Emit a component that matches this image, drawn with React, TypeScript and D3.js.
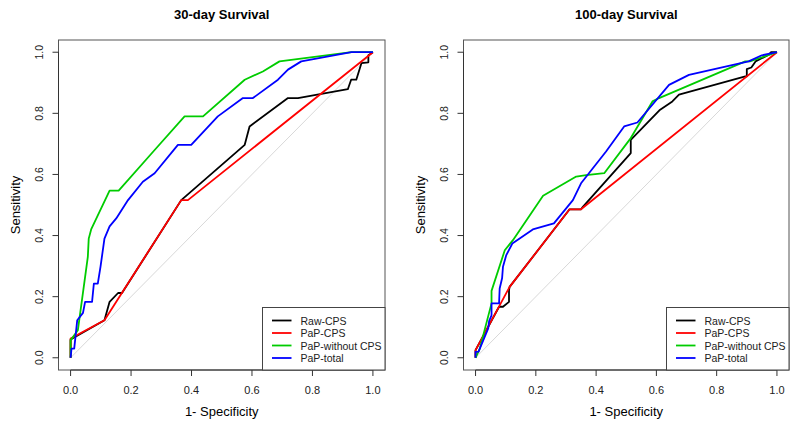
import React from "react";
import * as d3 from "d3";

type Pt = [number, number];

// 30-day survival ROC curves: [1-specificity, sensitivity]
const rawCps30: Pt[] = [[0,0],[0,0.06],[0.112,0.123],[0.129,0.183],[0.157,0.212],[0.17,0.212],[0.366,0.516],[0.576,0.697],[0.592,0.757],[0.719,0.85],[0.752,0.85],[0.917,0.879],[0.928,0.91],[0.945,0.91],[0.962,0.964],[0.985,0.967],[0.985,0.99],[1,1]];
const papCps30: Pt[] = [[0,0],[0,0.063],[0.112,0.123],[0.366,0.516],[0.388,0.516],[1,1]];
const papWithout30: Pt[] = [[0,0],[0,0.057],[0.024,0.09],[0.057,0.33],[0.06,0.39],[0.068,0.42],[0.129,0.547],[0.159,0.547],[0.278,0.68],[0.377,0.79],[0.438,0.79],[0.576,0.91],[0.636,0.937],[0.691,0.97],[0.929,1],[1,1]];
const papTotal30: Pt[] = [[0,0],[0.003,0.03],[0.012,0.03],[0.022,0.123],[0.041,0.147],[0.048,0.183],[0.071,0.183],[0.077,0.243],[0.09,0.243],[0.099,0.298],[0.112,0.39],[0.129,0.43],[0.151,0.456],[0.19,0.516],[0.239,0.576],[0.278,0.604],[0.355,0.697],[0.399,0.697],[0.487,0.79],[0.57,0.85],[0.603,0.85],[0.686,0.91],[0.719,0.943],[0.763,0.97],[0.929,1],[1,1]];

// 100-day survival ROC curves
const rawCps100: Pt[] = [[0,0],[0,0.025],[0.078,0.167],[0.091,0.167],[0.111,0.183],[0.111,0.221],[0.113,0.232],[0.312,0.486],[0.35,0.486],[0.356,0.494],[0.515,0.67],[0.515,0.713],[0.61,0.81],[0.653,0.839],[0.675,0.861],[0.895,0.921],[0.9,0.921],[0.9,0.945],[0.915,0.95],[0.929,0.97],[0.973,0.992],[0.98,1],[1,1]];
const papCps100: Pt[] = [[0,0],[0,0.025],[0.113,0.232],[0.312,0.486],[0.35,0.486],[1,1]];
const papWithout100: Pt[] = [[0,0],[0.014,0.03],[0.053,0.178],[0.053,0.219],[0.097,0.352],[0.124,0.385],[0.224,0.53],[0.334,0.593],[0.367,0.598],[0.427,0.604],[0.515,0.719],[0.587,0.839],[0.609,0.85],[0.895,0.97],[0.91,0.97],[1,1]];
const papTotal100: Pt[] = [[0,0],[0,0.019],[0.01,0.02],[0.042,0.096],[0.045,0.12],[0.053,0.139],[0.053,0.178],[0.078,0.178],[0.08,0.227],[0.088,0.26],[0.091,0.298],[0.102,0.336],[0.122,0.374],[0.19,0.42],[0.26,0.44],[0.323,0.516],[0.35,0.571],[0.433,0.675],[0.493,0.757],[0.537,0.77],[0.642,0.893],[0.708,0.926],[0.906,0.97],[0.95,0.99],[1,1]];

const seriesNames = ["Raw-CPS", "PaP-CPS", "PaP-without CPS", "PaP-total"];
const seriesColors = ["#000000", "#ff0000", "#00cc00", "#0000ff"];
const tickValues = [0, 0.2, 0.4, 0.6, 0.8, 1.0];
const panelTitles = ["30-day Survival", "100-day Survival"];
const xLabel = "1- Specificity";
const yLabel = "Sensitivity";

const panelsData: Pt[][][] = [
  [rawCps30, papCps30, papWithout30, papTotal30],
  [rawCps100, papCps100, papWithout100, papTotal100],
];

const FONT = "'Liberation Sans', Arial, Helvetica, sans-serif";

function Panel({ left, right, title, curves }: { left: number; right: number; title: string; curves: Pt[][] }) {
  const top = 40;
  const bottom = 370;
  const x = d3.scaleLinear().domain([-0.04, 1.04]).range([left, right]);
  const y = d3.scaleLinear().domain([-0.04, 1.04]).range([bottom, top]);
  const line = d3.line<Pt>().x((d) => x(d[0])).y((d) => y(d[1]));
  const cx = (left + right) / 2;
  const cy = (top + bottom) / 2;
  const legLeft = right - 122.5;
  const legTop = 307.5;
  return (
    <g>
      <text x={cx} y={19} textAnchor="middle" fontFamily={FONT} fontWeight="bold" fontSize={13} fill="#000">{title}</text>
      {/* diagonal reference */}
      <path d={line([[0, 0], [1, 1]]) || ""} stroke="#d8d8d8" strokeWidth={1} fill="none" />
      {curves.map((c, i) => (
        <path key={i} d={line(c) || ""} stroke={seriesColors[i]} strokeWidth={1.8} fill="none" strokeLinejoin="round" />
      ))}
      {/* box */}
      <rect x={left} y={top} width={right - left} height={bottom - top} fill="none" stroke="#555" strokeWidth={1} />
      {/* x axis */}
      <line x1={x(0)} x2={x(1)} y1={bottom} y2={bottom} stroke="#333" />
      {tickValues.map((t) => (
        <g key={"x" + t}>
          <line x1={x(t)} x2={x(t)} y1={bottom} y2={bottom + 6} stroke="#333" />
          <text x={x(t)} y={394} textAnchor="middle" fontFamily={FONT} fontSize={11} fill="#222">{t.toFixed(1)}</text>
        </g>
      ))}
      {/* y axis */}
      <line x1={left} x2={left} y1={y(0)} y2={y(1)} stroke="#333" />
      {tickValues.map((t) => (
        <g key={"y" + t}>
          <line x1={left} x2={left - 6} y1={y(t)} y2={y(t)} stroke="#333" />
          <text x={left - 15.5} y={y(t)} transform={`rotate(-90 ${left - 15.5} ${y(t)})`} textAnchor="middle" fontFamily={FONT} fontSize={10.5} fill="#222">{t.toFixed(1)}</text>
        </g>
      ))}
      <text x={cx} y={416} textAnchor="middle" fontFamily={FONT} fontSize={13} fill="#000">{xLabel}</text>
      <text x={left - 39} y={cy} transform={`rotate(-90 ${left - 39} ${cy})`} textAnchor="middle" fontFamily={FONT} fontSize={13} fill="#000">{yLabel}</text>
      {/* legend */}
      <rect x={legLeft} y={legTop} width={right - legLeft} height={bottom - legTop} fill="#fff" stroke="#444" strokeWidth={1} />
      {seriesNames.map((n, i) => {
        const ly = 320.5 + i * 12.5;
        return (
          <g key={n}>
            <line x1={legLeft + 9.5} x2={legLeft + 29} y1={ly} y2={ly} stroke={seriesColors[i]} strokeWidth={1.8} />
            <text x={legLeft + 38} y={ly} dominantBaseline="central" fontFamily={FONT} fontSize={10.5} fill="#222">{n}</text>
          </g>
        );
      })}
    </g>
  );
}

export default function App() {
  return (
    <svg width={800} height={431} style={{ position: "absolute", left: 0, top: 0, background: "#fff" }}>
      <rect x={0} y={0} width={800} height={431} fill="#fff" />
      <Panel left={58.5} right={385} title={panelTitles[0]} curves={panelsData[0]} />
      <Panel left={463.5} right={789} title={panelTitles[1]} curves={panelsData[1]} />
    </svg>
  );
}
